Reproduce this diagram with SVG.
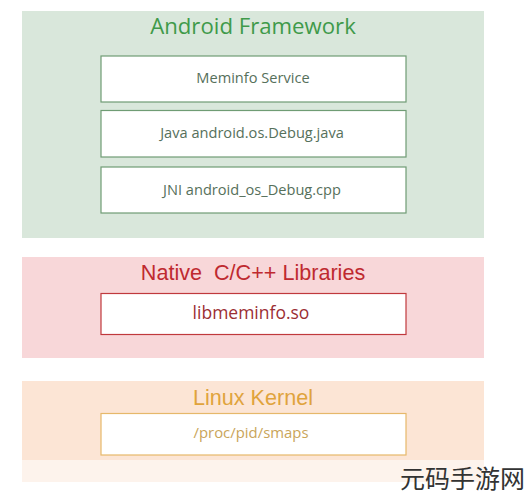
<svg xmlns="http://www.w3.org/2000/svg" width="526" height="500" viewBox="0 0 526 500">
<style>
.box{fill:#ffffff;stroke-width:1.2}
.g{stroke:#6f9c74}
.r{stroke:#c0393d}
.o{stroke:#e6b86a}
.lbl{font-family:"Open Sans","Noto Sans",sans-serif;font-size:14.6px;text-anchor:middle}
.ttl{font-family:"Liberation Sans",Arial,sans-serif;font-size:21.6px;text-anchor:middle}
</style>
<rect width="526" height="500" fill="#ffffff"/>
<g id="android-framework">
<rect x="22" y="11" width="462" height="227" fill="#d9e7db"/>
<text x="253" y="34" font-family="'Open Sans','Noto Sans',sans-serif" font-size="22.2" fill="#3f9a4a" text-anchor="middle">Android Framework</text>
</g>
<g id="meminfo-service">
<rect class="box g" x="101" y="56" width="305" height="46"/>
<text class="lbl" x="253" y="83" fill="#56705b">Meminfo Service</text>
</g>
<g id="debug-java">
<rect class="box g" x="101" y="110.5" width="305" height="46.5"/>
<text class="lbl" x="252" y="138" fill="#56705b">Java android.os.Debug.java</text>
</g>
<g id="debug-jni">
<rect class="box g" x="101" y="167" width="305" height="46"/>
<text class="lbl" x="252" y="195" fill="#56705b">JNI android_os_Debug.cpp</text>
</g>
<g id="native-libraries">
<rect x="22" y="257" width="462" height="101" fill="#f8d7d9"/>
<text class="ttl" x="253" y="280" fill="#bf2a30" xml:space="preserve">Native  C/C++ Libraries</text>
</g>
<g id="libmeminfo">
<rect class="box r" x="101" y="293.5" width="305" height="41"/>
<text x="251" y="319" font-family="'Open Sans','Noto Sans',sans-serif" font-size="17.5" fill="#9b2e33" text-anchor="middle">libmeminfo.so</text>
</g>
<g id="linux-kernel">
<rect x="22" y="460" width="462" height="22" fill="#fdf3ec"/>
<rect x="22" y="381" width="462" height="79" fill="#fce5d5"/>
<text class="ttl" x="253" y="405" fill="#e0a33c">Linux Kernel</text>
</g>
<g id="proc-smaps">
<rect class="box o" x="101" y="413.5" width="305" height="41.5"/>
<text x="251" y="438" font-family="'Open Sans','Noto Sans',sans-serif" font-size="14.9" fill="#c9a55a" text-anchor="middle">/proc/pid/smaps</text>
</g>
<g id="connectors"></g>
<text x="525" y="488" font-family="'Noto Sans CJK SC',sans-serif" font-size="25" fill="#333333" text-anchor="end">元码手游网</text>
</svg>
